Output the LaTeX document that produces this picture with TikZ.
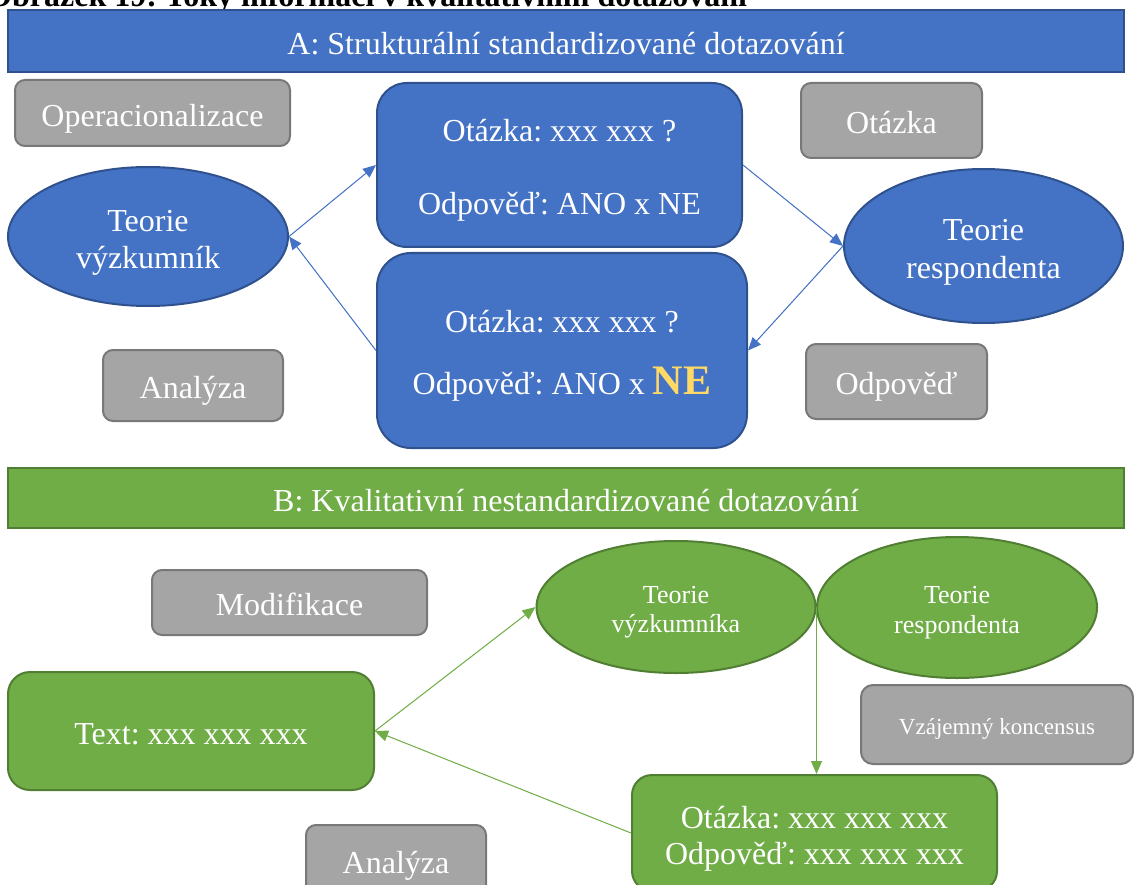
\documentclass[tikz,border=0pt]{standalone}
\usepackage{fontspec}
\setmainfont{Liberation Serif}
\usetikzlibrary{arrows.meta,shapes.geometric}
\definecolor{blueF}{HTML}{4472C4}
\definecolor{blueD}{HTML}{2F528F}
\definecolor{greenF}{HTML}{70AD47}
\definecolor{greenD}{HTML}{507E32}
\definecolor{grayF}{HTML}{A5A5A5}
\definecolor{grayD}{HTML}{787878}
\definecolor{gold}{HTML}{FFD966}
\frenchspacing
% line-box struts: text is centred on the full ascent/descent of the font
\newcommand\ascstrut{\rule{0pt}{1.05em}}
\newcommand\descstrut{\rule[-0.216em]{0pt}{0.216em}}
\begin{document}
\begin{tikzpicture}[x=1pt,y=-1pt,
  txt/.style={text=white,font=\fontsize{32}{38.4}\selectfont,align=center,inner sep=0pt,
    execute at begin node=\ascstrut,execute at end node=\descstrut},
  small/.style={font=\fontsize{26}{29.5}\selectfont},
  band/.style={txt,rectangle,line width=2.5pt},
  bandA/.style={band,draw=blueD,fill=blueF},
  bandB/.style={band,draw=greenD,fill=greenF},
  tag/.style={txt,rectangle,rounded corners=10pt,draw=grayD,fill=grayF,line width=2pt},
  qbox/.style={txt,rectangle,line width=2pt},
  bluebox/.style={qbox,draw=blueD,fill=blueF},
  greenbox/.style={qbox,draw=greenD,fill=greenF},
  theory/.style={txt,ellipse,line width=2pt},
  blueell/.style={theory,draw=blueD,fill=blueF},
  greenell/.style={theory,draw=greenD,fill=greenF},
  flow/.style={line width=1pt,-{Triangle[length=13pt,width=11pt]}},
  flowA/.style={flow,draw=blueF,fill=blueF},
  flowB/.style={flow,draw=greenF,fill=greenF}]
\clip (0,0) rectangle (1134,885);

% caption above the figure
\node[anchor=base west,inner sep=0pt,font=\bfseries\fontsize{32}{38}\selectfont] (title) at (-13,7)
  {Obrázek 19: Toky informací v kvalitativním dotazování};

% ---------- part A ----------
\node[bandA,minimum width=1116pt,minimum height=62pt] (bandA) at (566,41)
  {A: Strukturální standardizované dotazování};

\node[tag,minimum width=275pt,minimum height=66pt] (oper) at (152.5,113) {Operacionalizace};
\node[tag,minimum width=180pt,minimum height=71pt] (analA) at (193,385.5) {Analýza};
\node[tag,minimum width=181pt,minimum height=75pt] (otz) at (891.5,120.5) {Otázka};
\node[tag,minimum width=181pt,minimum height=75pt] (odp) at (896.5,381.5) {Odpověď};

\node[blueell,minimum width=280pt,minimum height=139pt] (vyzA) at (148,236.5)
  {\ascstrut Teorie\\[-2pt]výzkumník\descstrut};
\node[blueell,minimum width=279pt,minimum height=154pt] (respA) at (983.5,246)
  {\ascstrut Teorie\\[-1pt]respondenta\descstrut};

\node[bluebox,rounded corners=30pt,minimum width=365pt,minimum height=164pt] (q1) at (559.5,165)
  {\ascstrut Otázka: xxx xxx ?\\[34.6pt]Odpověď: ANO x NE\descstrut};
\node[bluebox,rounded corners=34pt,minimum width=370pt,minimum height=195pt] (q2) at (562,350.5)
  {\ascstrut Otázka: xxx xxx ?\\[23.6pt]Odpověď: ANO x {\color{gold}\bfseries\fontsize{42}{48}\selectfont NE}\descstrut};

\draw[flowA] (vyzA.east) -- (q1.west);
\draw[flowA] (q1.east) -- (respA.west);
\draw[flowA] (respA.west) -- (q2.east);
\draw[flowA] (q2.west) -- (vyzA.east);

% ---------- part B ----------
\node[bandB,minimum width=1116pt,minimum height=60pt] (bandB) at (566,498)
  {B: Kvalitativní nestandardizované dotazování};

\node[tag,minimum width=275pt,minimum height=65pt] (modif) at (289.5,602.5) {Modifikace};
\node[tag,minimum width=180pt,minimum height=71pt] (analB) at (396,860.5) {Analýza};
\node[tag,rounded corners=12pt,minimum width=272pt,minimum height=79pt,font=\fontsize{23}{28}\selectfont] (kons) at (997,724.5)
  {Vzájemný koncensus};

\node[greenell,small,minimum width=279pt,minimum height=132pt] (vyzB) at (676,607)
  {\ascstrut Teorie\\výzkumníka\descstrut};
\node[greenell,small,minimum width=280pt,minimum height=141pt] (respB) at (957,607.5)
  {\ascstrut Teorie\\respondenta\descstrut};

\node[greenbox,rounded corners=22pt,minimum width=366pt,minimum height=118pt] (textB) at (191,731)
  {Text: xxx xxx xxx};
\node[greenbox,rounded corners=20pt,minimum width=365pt,minimum height=116pt] (qB) at (814.5,833)
  {\ascstrut Otázka: xxx xxx xxx\\[-3pt]Odpověď: xxx xxx xxx\descstrut};

\draw[flowB] (textB.east) -- (vyzB.west);
\draw[flowB] (vyzB.east) -- (vyzB.east |- qB.north);
\draw[flowB] (qB.west) -- (textB.east);
\end{tikzpicture}
\end{document}
